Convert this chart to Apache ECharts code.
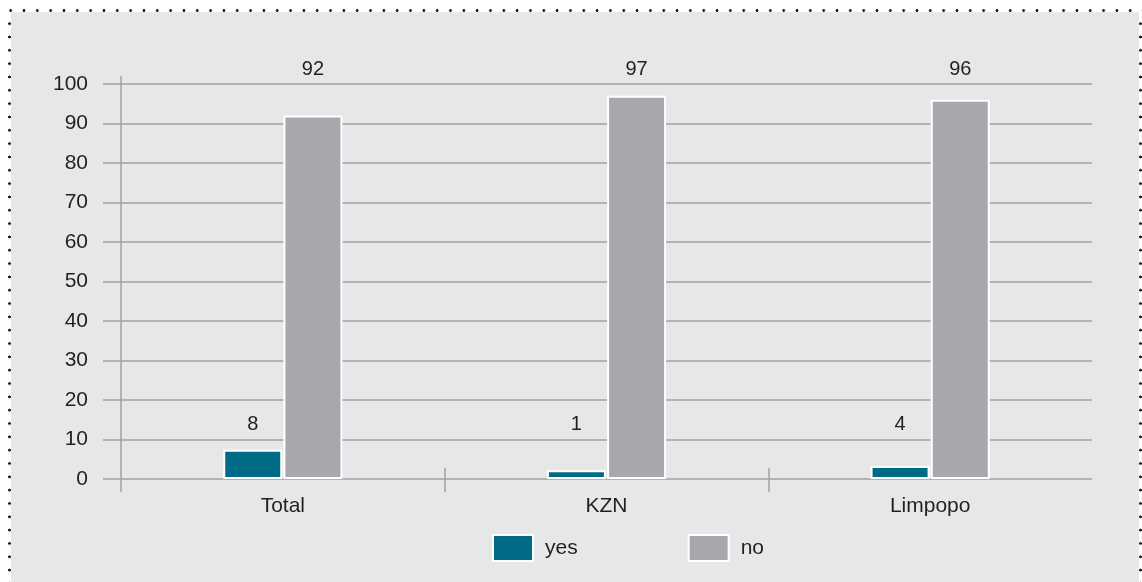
<!DOCTYPE html>
<html>
<head>
<meta charset="utf-8">
<script src="https://cdn.jsdelivr.net/npm/echarts@6/dist/echarts.min.js"></script>
<style>
  html, body { margin: 0; padding: 0; background: #ffffff; }
  #wrap { position: relative; width: 1142px; height: 582px; overflow: hidden; }
  #panel { position: absolute; left: 11px; top: 12px; width: 1128px; height: 570px; background: #e6e7e8; }
  .dots-h { position: absolute; left: 4.3px; top: 4px; width: 1138px; height: 13px;
    background-image: radial-gradient(circle at center, #1a1a1a 1.1px, rgba(0,0,0,0) 1.7px);
    background-size: 13.33px 13px; background-repeat: repeat-x; }
  .dots-v { position: absolute; top: 16.6px; width: 13px; height: 570px;
    background-image: radial-gradient(circle at center, #1a1a1a 1.1px, rgba(0,0,0,0) 1.7px);
    background-size: 13px 13.33px; background-repeat: repeat-y; }
  #chart { position: absolute; left: 0; top: 0; width: 1142px; height: 582px; }
</style>
</head>
<body>
<div id="wrap">
  <div id="panel"></div>
  <div class="dots-h"></div>
  <div class="dots-v" style="left:3px"></div>
  <div class="dots-v" style="left:1134px"></div>
  <div id="chart"></div>
</div>
<script>
// ---- data ----
var categories = ['Total', 'KZN', 'Limpopo'];
var seriesNames = ['yes', 'no'];
var yesValues = [7.4, 2.2, 3.3];      // bar heights as drawn
var yesLabels = ['8', '1', '4'];      // printed labels
var noValues = [92, 97, 96];
var noLabels = ['92', '97', '96'];
var yTicks = [0, 10, 20, 30, 40, 50, 60, 70, 80, 90, 100];

// ---- style ----
var FONT = "'Liberation Sans', Arial, Helvetica, sans-serif";
var TEXT = '#231f20';
var GRID = '#a2a2a2';
var YES_LABEL_LEVEL = 13.9;
var NO_LABEL_LEVEL = 103.8;

var chart = echarts.init(document.getElementById('chart'), null, { renderer: 'canvas' });

function labelAt(level) {
  return function (p) {
    var y = chart.convertToPixel({ yAxisIndex: 0 }, level);
    return { x: p.rect.x + p.rect.width / 2, y: y, align: 'center', verticalAlign: 'middle' };
  };
}

var hiddenAxisBase = {
  type: 'value', min: 0, max: 3, gridIndex: 0,
  axisLine: { show: false, onZero: false },
  axisLabel: { show: false },
  splitLine: { show: false }
};

var option = {
  animation: false,
  backgroundColor: 'transparent',
  textStyle: { fontFamily: FONT },
  grid: { left: 121, right: 50, top: 84, bottom: 103, containLabel: false },
  legend: {
    data: seriesNames,
    left: 492, top: 534, padding: 0,
    icon: 'rect', itemWidth: 40, itemHeight: 26, itemGap: 110,
    textStyle: { fontSize: 21, color: TEXT, fontFamily: FONT, padding: [0, 0, 0, 7] }
  },
  xAxis: [
    {
      type: 'category', data: categories,
      axisLine: { show: false, onZero: false },
      axisTick: { show: false },
      axisLabel: { color: TEXT, fontSize: 21, fontFamily: FONT, margin: 17 }
    },
    Object.assign({}, hiddenAxisBase, {
      position: 'bottom',
      axisTick: { show: true, inside: false, length: 13, customValues: [0, 1, 2],
        lineStyle: { color: GRID, width: 1.5 } }
    }),
    Object.assign({}, hiddenAxisBase, {
      position: 'bottom',
      axisTick: { show: true, inside: true, length: 11, customValues: [1, 2],
        lineStyle: { color: GRID, width: 1.5 } }
    }),
    Object.assign({}, hiddenAxisBase, {
      position: 'top',
      axisTick: { show: true, inside: false, length: 8, customValues: [0],
        lineStyle: { color: GRID, width: 1.5 } }
    })
  ],
  yAxis: {
    type: 'value', min: 0, max: 100, interval: 10,
    axisLine: { show: true, lineStyle: { color: GRID, width: 1.5 } },
    axisTick: { show: true, inside: false, length: 18, lineStyle: { color: GRID, width: 1.5 } },
    axisLabel: { color: TEXT, fontSize: 21, fontFamily: FONT, margin: 33,
      formatter: function (v) { return yTicks.indexOf(v) >= 0 ? String(v) : ''; } },
    splitLine: { show: true, lineStyle: { color: GRID, width: 1.5 } }
  },
  series: [
    {
      name: seriesNames[0], type: 'bar', xAxisIndex: 0, data: yesValues,
      barWidth: 59, barGap: '2%',
      itemStyle: { color: '#006b86', borderColor: '#ffffff', borderWidth: 2 },
      label: { show: true, fontSize: 20, color: TEXT, fontFamily: FONT,
        formatter: function (p) { return yesLabels[p.dataIndex]; } },
      labelLayout: labelAt(YES_LABEL_LEVEL)
    },
    {
      name: seriesNames[1], type: 'bar', xAxisIndex: 0, data: noValues,
      barWidth: 59, barGap: '2%',
      itemStyle: { color: '#a7a8ab', borderColor: '#ffffff', borderWidth: 2 },
      label: { show: true, fontSize: 20, color: TEXT, fontFamily: FONT,
        formatter: function (p) { return noLabels[p.dataIndex]; } },
      labelLayout: labelAt(NO_LABEL_LEVEL)
    }
  ]
};
chart.setOption(option);
</script>
</body>
</html>
